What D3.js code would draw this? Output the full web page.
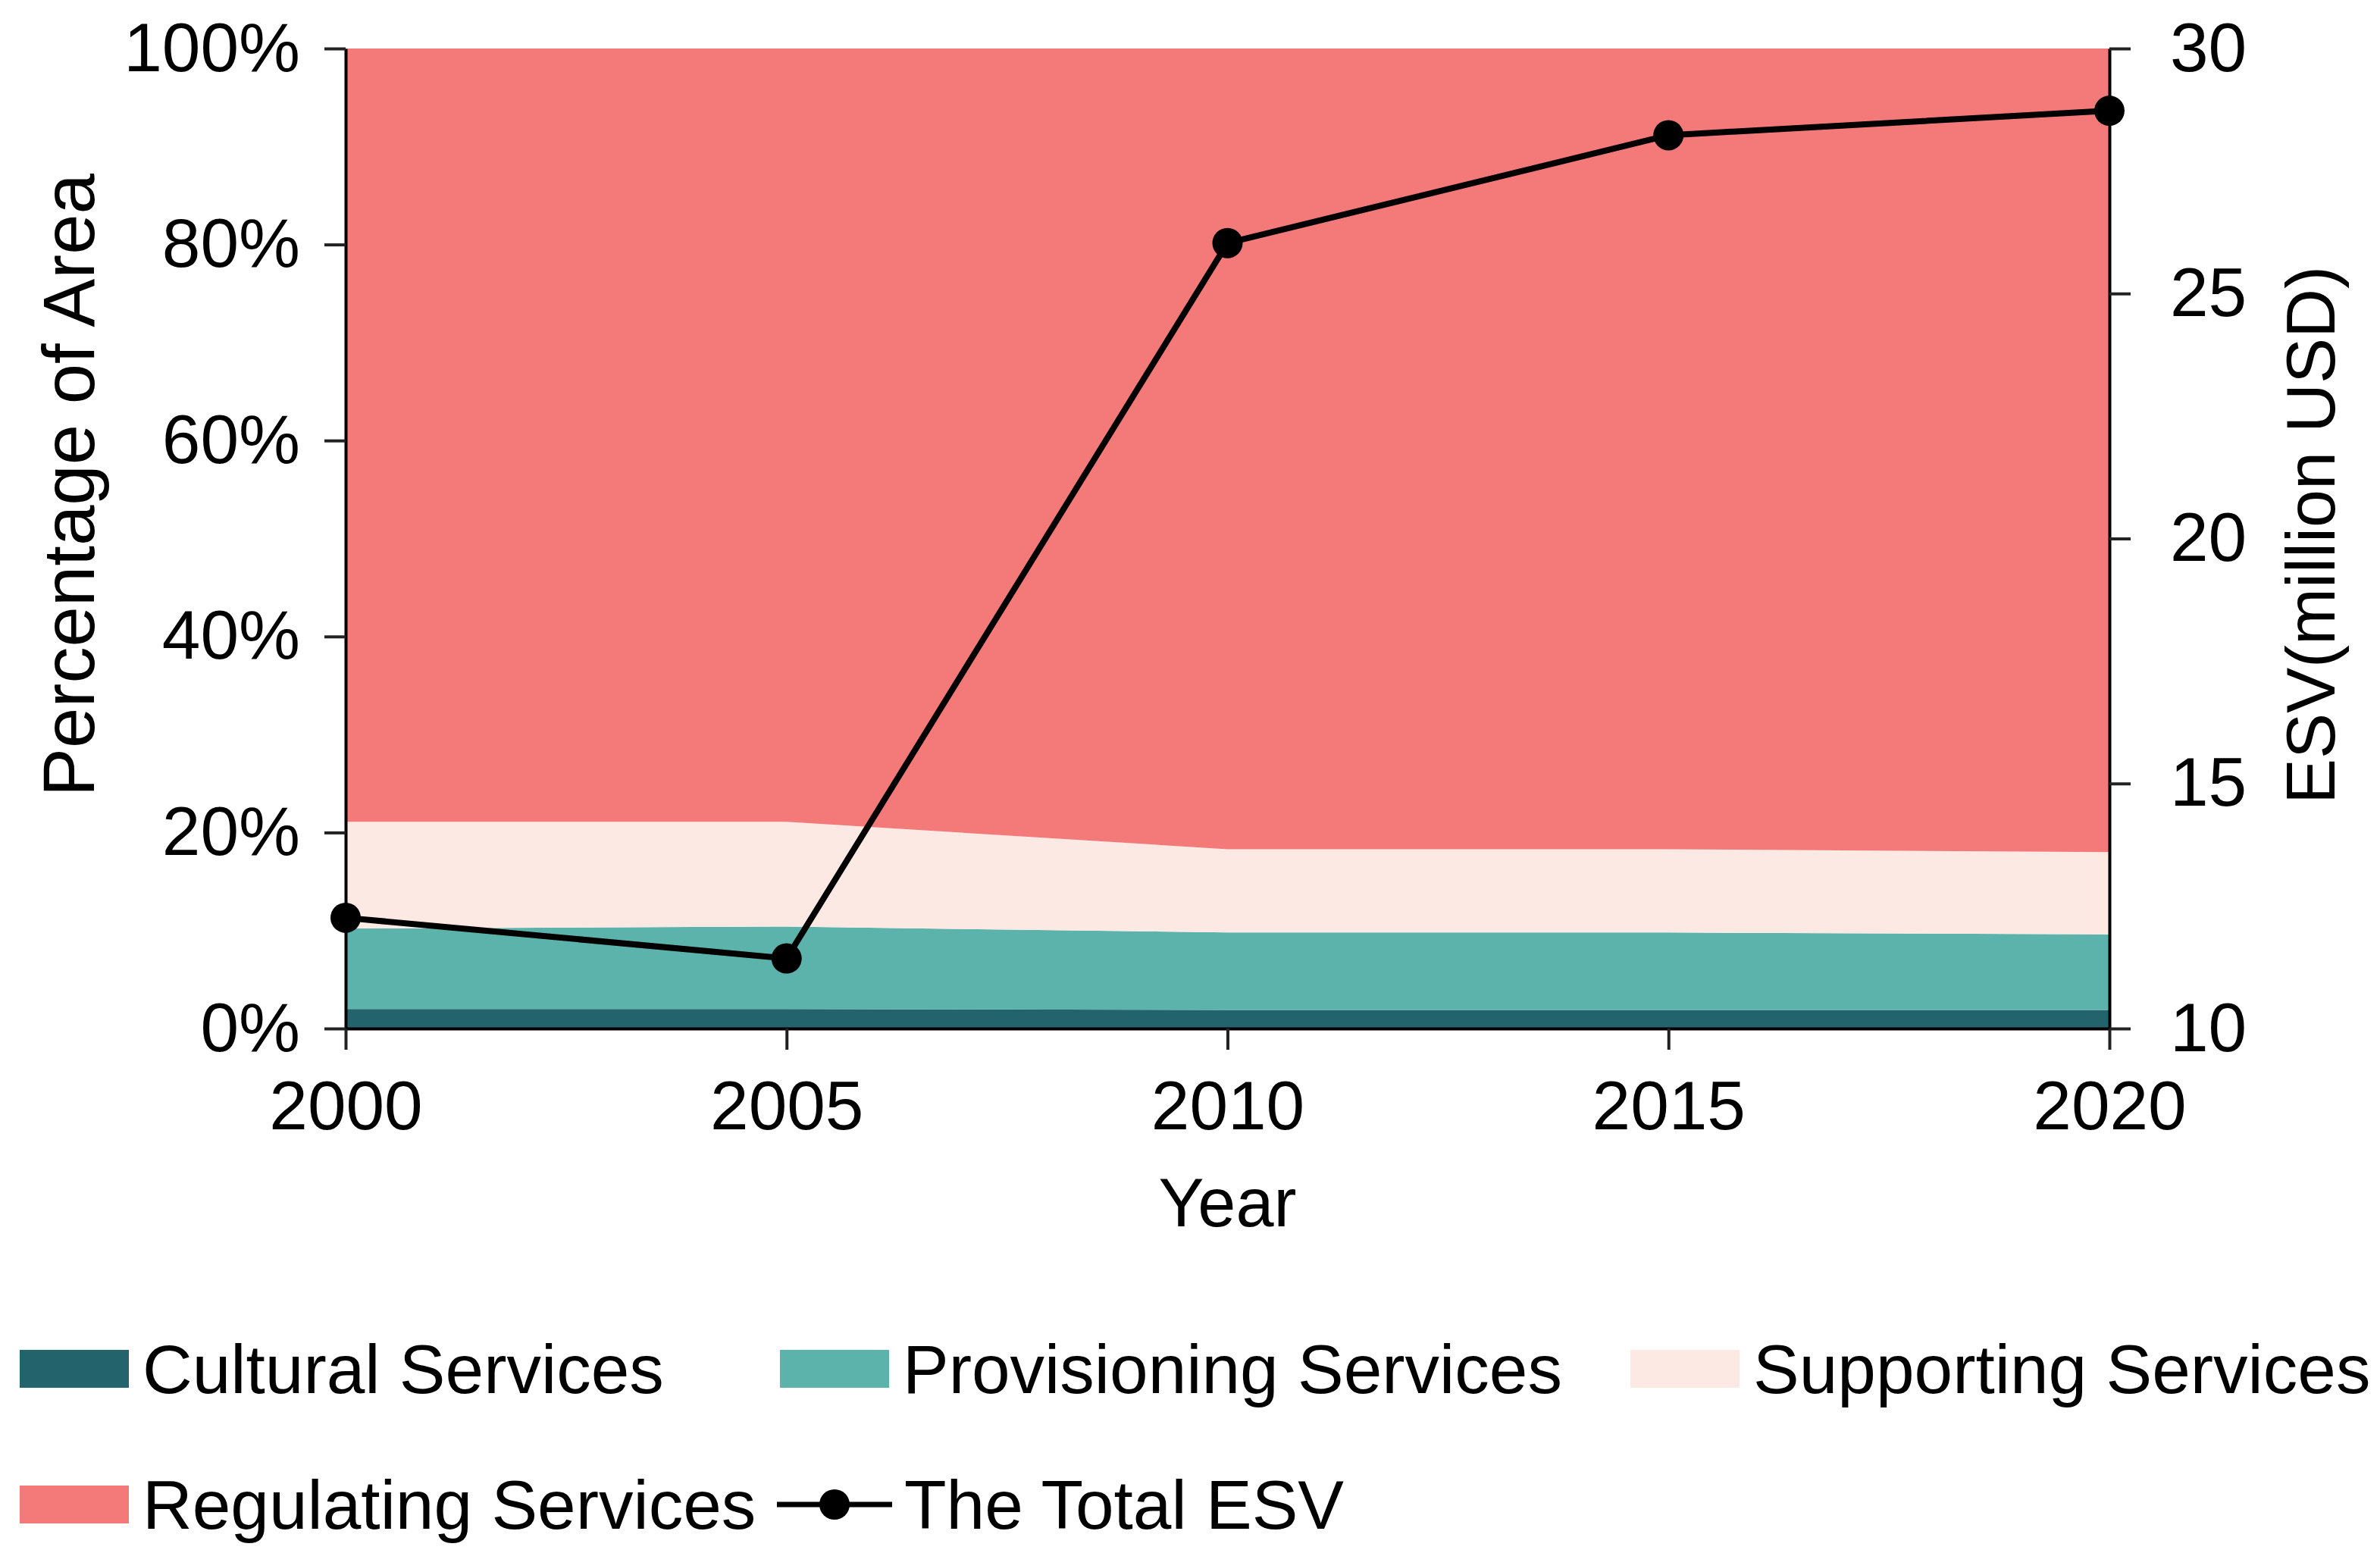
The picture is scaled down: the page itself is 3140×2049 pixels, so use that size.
<!DOCTYPE html>
<html><head><meta charset="utf-8">
<script src="https://cdn.jsdelivr.net/npm/d3@7/dist/d3.min.js"></script>
<style>body{margin:0;background:#fff}svg{display:block}text{font-family:"Liberation Sans",Arial,Helvetica,sans-serif;fill:#000}</style>
</head><body><svg id="c" width="3140" height="2049"></svg>
<script>
const years = [2000, 2005, 2010, 2015, 2020];
const cultural = [2.0, 2.0, 1.9, 1.9, 1.9];
const provisioning = [8.2, 8.4, 7.9, 7.9, 7.7];
const supporting = [10.9, 10.7, 8.5, 8.5, 8.4];
const regulating = [78.9, 78.9, 81.7, 81.7, 82.0];
const totalESV = [12.26, 11.43, 26.03, 28.23, 28.73];
const seriesNames = ["Cultural Services", "Provisioning Services", "Supporting Services", "Regulating Services"];
const seriesColors = ["#23646c", "#5cb3ab", "#fde9e3", "#f47a7a"];
const leftTicks = [0, 20, 40, 60, 80, 100];
const rightTicks = [10, 15, 20, 25, 30];
const lineName = "The Total ESV";

const svg = d3.select("#c");
const L = 456, R = 2783, T = 64, B = 1357;
const x = d3.scaleLinear().domain([2000, 2020]).range([L, R]);
const yL = d3.scaleLinear().domain([0, 100]).range([B, T]);
const yR = d3.scaleLinear().domain([10, 30]).range([B, T]);

const rows = years.map((yr, i) => ({year: yr, c: cultural[i], p: provisioning[i], s: supporting[i], r: regulating[i]}));
const stack = d3.stack().keys(["c", "p", "s", "r"]);
const layers = stack(rows);
const area = d3.area().x(d => x(d.data.year)).y0(d => yL(d[0])).y1(d => yL(d[1]));
svg.append("g").selectAll("path").data(layers).join("path")
  .attr("d", area).attr("fill", (d, i) => seriesColors[i]);

// line
const line = d3.line().x((d, i) => x(years[i])).y(d => yR(d));
svg.append("path").datum(totalESV).attr("d", line).attr("fill", "none")
  .attr("stroke", "#000").attr("stroke-width", 8).attr("stroke-linejoin", "round");

// axes
const fs = 91;
function style(g) {
  g.selectAll(".domain").attr("stroke", "#000").attr("stroke-width", 4);
  g.selectAll(".tick line").attr("stroke", "#222").attr("stroke-width", 4);
  g.selectAll(".tick text").attr("font-size", fs).attr("font-family", '"Liberation Sans",Arial,sans-serif').attr("fill", "#000");
}
const gx = svg.append("g").attr("transform", `translate(0,${B})`)
  .call(d3.axisBottom(x).tickValues(years).tickFormat(d3.format("d")).tickSize(28).tickSizeOuter(0).tickPadding(40));
style(gx);
const gl = svg.append("g").attr("transform", `translate(${L},0)`)
  .call(d3.axisLeft(yL).tickValues(leftTicks).tickFormat(d => d + "%").tickSize(28).tickSizeOuter(0).tickPadding(32));
style(gl);
const gr = svg.append("g").attr("transform", `translate(${R},0)`)
  .call(d3.axisRight(yR).tickValues(rightTicks).tickFormat(d3.format("d")).tickSize(28).tickSizeOuter(0).tickPadding(52));
style(gr);

// points
svg.append("g").selectAll("circle").data(totalESV).join("circle")
  .attr("cx", (d, i) => x(years[i])).attr("cy", d => yR(d)).attr("r", 20).attr("fill", "#000");

// axis titles
svg.append("text").attr("transform", "translate(124,640) rotate(-90)").attr("text-anchor", "middle")
  .attr("font-size", 96).text("Percentage of Area");
svg.append("text").attr("transform", "translate(3080,706) rotate(-90)").attr("text-anchor", "middle")
  .attr("font-size", 90).text("ESV(million USD)");
svg.append("text").attr("x", (L + R) / 2).attr("y", 1618).attr("text-anchor", "middle")
  .attr("font-size", 90).text("Year");

// legend
const legendPos = [[26, 1806], [1029, 1806], [2151, 1806], [26, 1985]];
const lg = svg.append("g");
seriesNames.forEach((n, i) => {
  const [lx, ly] = legendPos[i];
  lg.append("rect").attr("x", lx).attr("y", ly - 25).attr("width", 144).attr("height", 50).attr("fill", seriesColors[i]);
  lg.append("text").attr("x", lx + 162).attr("y", ly + 32).attr("font-size", 91).text(n);
});
const lpx = 1029, lpy = 1985;
lg.append("line").attr("x1", lpx - 4).attr("x2", lpx + 148).attr("y1", lpy).attr("y2", lpy).attr("stroke", "#000").attr("stroke-width", 7);
lg.append("circle").attr("cx", lpx + 72).attr("cy", lpy).attr("r", 20).attr("fill", "#000");
lg.append("text").attr("x", lpx + 164).attr("y", lpy + 32).attr("font-size", 91).text(lineName);
</script></body></html>
